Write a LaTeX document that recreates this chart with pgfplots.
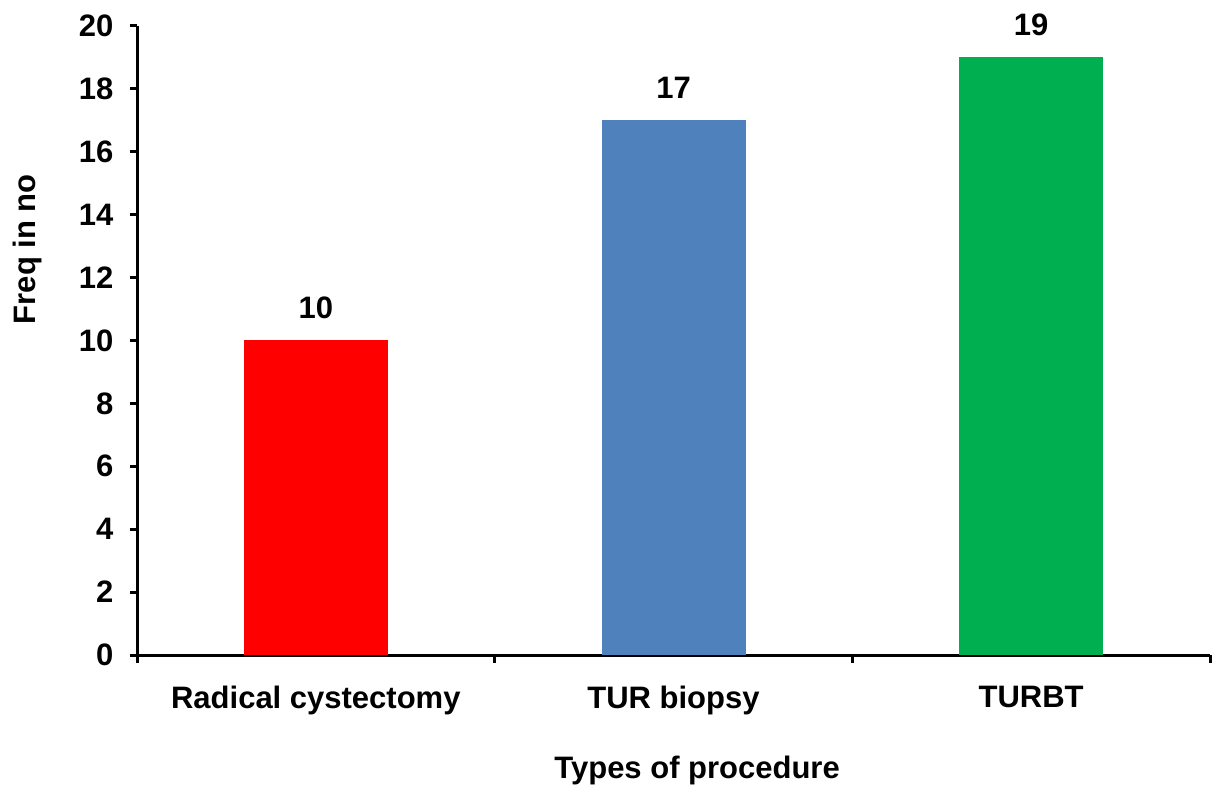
\documentclass[border=0pt]{standalone}
\usepackage{pgfplots}
\pgfplotsset{compat=1.18}
\usepackage{fontspec}
\setmainfont{Liberation Sans}
\definecolor{cred}{HTML}{FF0000}
\definecolor{cblue}{HTML}{4F81BD}
\definecolor{cgreen}{HTML}{00B050}
\newcommand{\bigf}{\fontsize{31}{36}\selectfont\bfseries}
\begin{document}
\begin{tikzpicture}
\useasboundingbox (0,0) rectangle (1213pt,790pt);
\begin{axis}[
  at={(137pt,135pt)}, anchor=south west,
  scale only axis, width=1073pt, height=629pt,
  xmin=-0.5, xmax=2.5, ymin=0, ymax=20,
  axis lines*=left,
  axis line style={line width=3pt,-},
  every tick/.style={line width=3pt,black},
  tick align=outside,
  major tick length=7pt,
  minor tick length=8pt,
  xtick={0,1,2},
  xticklabels={Radical cystectomy, TUR biopsy, TURBT},
  minor xtick={-0.5,0.5,1.5,2.5},
  major x tick style={draw=none},
  ytick={0,2,...,20},
  /pgf/number format/assume math mode=true,
  ticklabel style={font=\bigf},
  yticklabel style={xshift=-13pt},
  xticklabel style={yshift=-21pt},
  xlabel={Types of procedure},
  ylabel={Freq in no},
  every axis x label/.style={at={(axis description cs:0.522,-0.183)}, anchor=center, font=\bigf},
  every axis y label/.style={at={(axis description cs:-0.1025,0.645)}, rotate=90, anchor=center, font=\bigf},
  ybar, bar width=144pt, bar shift=0pt,
  nodes near coords,
  every node near coord/.append style={font=\bigf, yshift=18pt},
  clip=false,
]
\addplot[fill=cred, draw=none] coordinates {(0,10)};
\addplot[fill=cblue, draw=none] coordinates {(1,17)};
\addplot[fill=cgreen, draw=none] coordinates {(2,19)};
\end{axis}
\end{tikzpicture}
\end{document}
